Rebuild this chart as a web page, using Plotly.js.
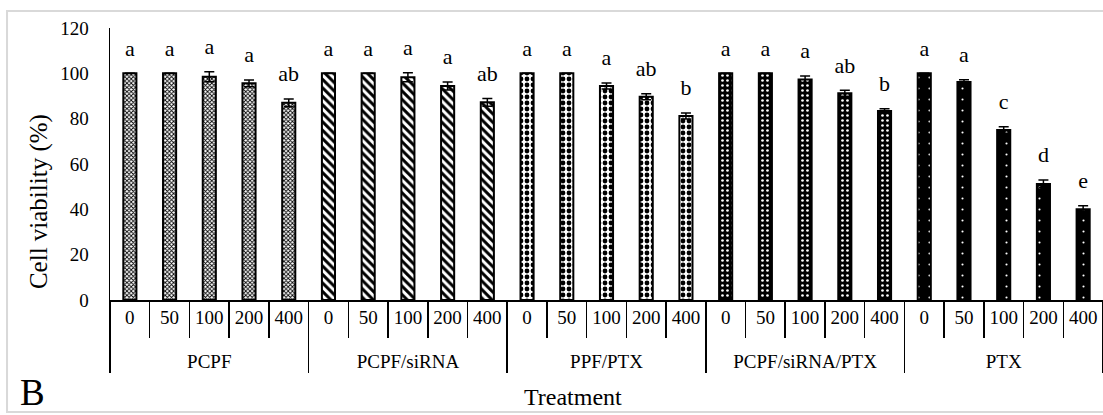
<!DOCTYPE html>
<html>
<head>
<meta charset="utf-8">
<script src="https://cdn.plot.ly/plotly-3.0.1.min.js"></script>
<style>html,body{margin:0;padding:0;background:#fff;}#chart{width:1103px;height:415px;}</style>
</head>
<body>
<div id="chart"></div>
<script>
const groups = ["PCPF", "PCPF/siRNA", "PPF/PTX", "PCPF/siRNA/PTX", "PTX"];
const doses = ["0", "50", "100", "200", "400"];

const pcpf = [100, 100, 98.5, 95.6, 87.0];
const pcpfErr = [0, 0, 2.2, 1.5, 1.7];
const pcpfLetters = ["a", "a", "a", "a", "ab"];

const pcpfSirna = [100, 100, 98.3, 94.4, 87.2];
const pcpfSirnaErr = [0, 0, 2.0, 1.8, 1.7];
const pcpfSirnaLetters = ["a", "a", "a", "a", "ab"];

const ppfPtx = [100, 100, 94.4, 89.7, 81.2];
const ppfPtxErr = [0, 0, 1.3, 1.3, 1.3];
const ppfPtxLetters = ["a", "a", "a", "ab", "b"];

const pcpfSirnaPtx = [100, 100, 97.3, 91.2, 83.4];
const pcpfSirnaPtxErr = [0, 0, 1.5, 1.3, 1.0];
const pcpfSirnaPtxLetters = ["a", "a", "a", "ab", "b"];

const ptx = [100, 96.2, 75.0, 51.2, 40.0];
const ptxErr = [0, 1.0, 1.4, 1.7, 1.6];
const ptxLetters = ["a", "a", "c", "d", "e"];

const seriesValues = [pcpf, pcpfSirna, ppfPtx, pcpfSirnaPtx, ptx];
const seriesErrors = [pcpfErr, pcpfSirnaErr, ppfPtxErr, pcpfSirnaPtxErr, ptxErr];
const seriesLetters = [pcpfLetters, pcpfSirnaLetters, ppfPtxLetters, pcpfSirnaPtxLetters, ptxLetters];

const patterns = [
  {shape: "x", size: 3, solidity: 0.5, fgcolor: "#000", bgcolor: "#fff"},
  {shape: "\\", size: 6, solidity: 0.5, fgcolor: "#000", bgcolor: "#fff"},
  {shape: ".", size: 6, solidity: 0.5, fgcolor: "#000", bgcolor: "#fff"},
  {shape: ".", size: 5, solidity: 0.22, fgcolor: "#fff", bgcolor: "#000"},
  {shape: ".", size: 11, solidity: 0.03, fgcolor: "#fff", bgcolor: "#000"}
];

const FONT = "Liberation Serif, Times New Roman, serif";
const traces = [];
const allX0 = [], allX1 = [], allY = [], allT = [];
groups.forEach((g, gi) => {
  const xg = doses.map(() => g);
  traces.push({
    type: "bar",
    x: [xg, doses],
    y: seriesValues[gi],
    width: 0.33,
    marker: {color: patterns[gi].bgcolor, pattern: patterns[gi], line: {color: "#000", width: 2}},
    error_y: {type: "data", array: seriesErrors[gi], visible: true, color: "#000", thickness: 1.5, width: 5},
    showlegend: false,
    hoverinfo: "skip"
  });
  doses.forEach((d, di) => {
    allX0.push(g); allX1.push(d);
    allY.push(seriesValues[gi][di] + seriesErrors[gi][di]);
    allT.push(seriesLetters[gi][di]);
  });
});
traces.push({
  type: "scatter",
  mode: "markers+text",
  x: [allX0, allX1],
  y: allY,
  text: allT,
  textposition: "top center",
  marker: {size: 18, color: "rgba(0,0,0,0)"},
  textfont: {family: FONT, size: 22, color: "#000"},
  showlegend: false,
  hoverinfo: "skip",
  cliponaxis: false
});

const layout = {
  width: 1103, height: 415,
  margin: {l: 110, r: 0, t: 28, b: 115},
  paper_bgcolor: "#fff", plot_bgcolor: "#fff",
  barmode: "overlay",
  font: {family: FONT, color: "#000", size: 19},
  xaxis: {
    type: "multicategory",
    showline: true, linecolor: "#000", linewidth: 1.5,
    ticks: "outside", tickson: "boundaries", ticklen: 36, tickwidth: 1.5, tickcolor: "#000",
    ticksuffix: "<br><span style='font-size:1px'>\u00a0</span>",
    showdividers: true, dividercolor: "#000", dividerwidth: 1.5,
    tickfont: {family: FONT, size: 19, color: "#000"},
    showgrid: false, zeroline: false,
    range: [-0.5, 24.5]
  },
  yaxis: {
    range: [0, 120], dtick: 20,
    showline: true, linecolor: "#000", linewidth: 1.5,
    ticks: "", ticklabelstandoff: 16,
    showgrid: false, zeroline: false,
    tickfont: {family: FONT, size: 19, color: "#000"}
  },
  annotations: [
    {text: "Cell viability (%)", textangle: -90, xref: "paper", yref: "paper", x: -0.0715, y: 0.36, xanchor: "center", yanchor: "middle", showarrow: false, font: {family: FONT, size: 25, color: "#000"}},
    {text: "Treatment", xref: "paper", yref: "paper", x: 0.466, y: -0.357, xanchor: "center", yanchor: "middle", showarrow: false, font: {family: FONT, size: 24, color: "#000"}},
    {text: "B", xref: "paper", yref: "paper", x: -0.078, y: -0.4228, xanchor: "center", yanchor: "bottom", showarrow: false, font: {family: FONT, size: 37, color: "#000"}}
  ],
  shapes: [
    {type: "rect", xref: "paper", yref: "paper", x0: -0.1037, x1: 1.01, y0: -0.412, y1: 1.0625, line: {color: "#d9d9d9", width: 2}, fillcolor: "rgba(0,0,0,0)", layer: "below"}
  ]
};

Plotly.newPlot("chart", traces, layout, {displayModeBar: false, staticPlot: true});
</script>
</body>
</html>
